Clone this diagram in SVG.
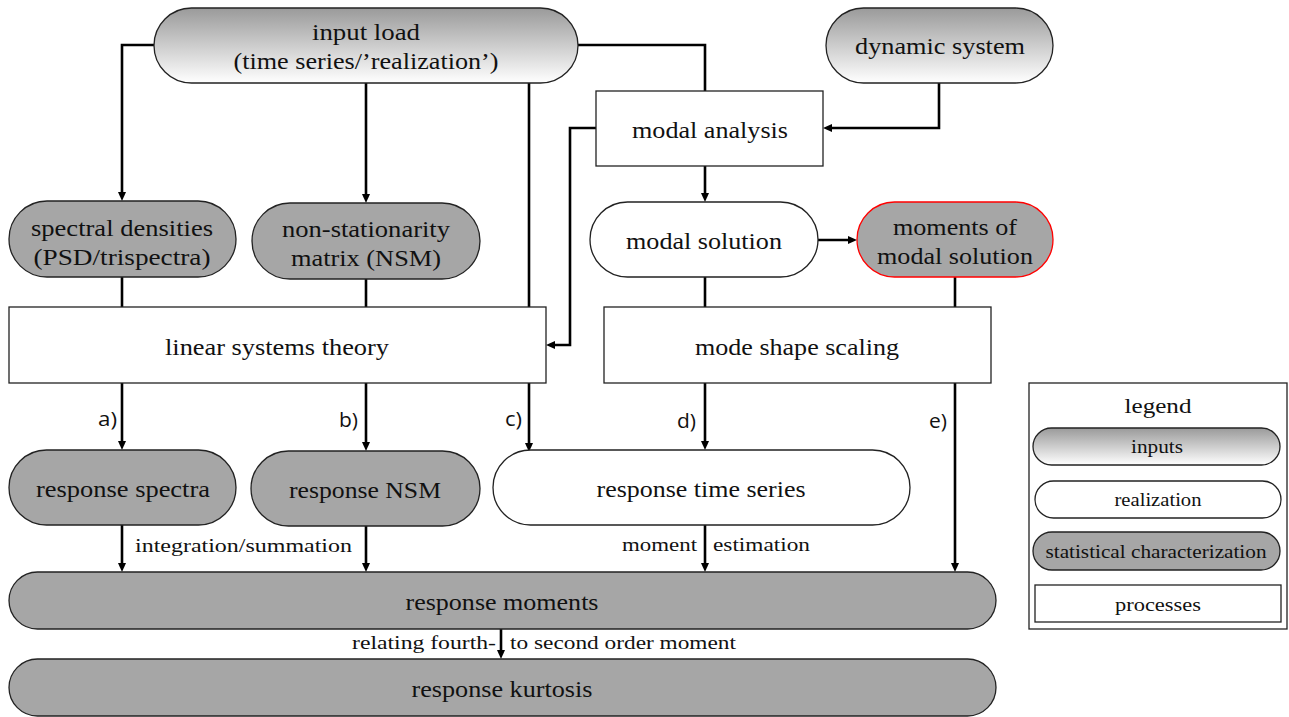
<svg xmlns="http://www.w3.org/2000/svg" width="1289" height="717" viewBox="0 0 1289 717">
<style>
  .t { font-family: "Liberation Serif", "Times New Roman", serif; font-size: 24px; fill: #111; text-anchor: middle; }
  .s { font-family: "Liberation Serif", "Times New Roman", serif; font-size: 19px; fill: #111; }
  .lg { font-family: "Liberation Serif", "Times New Roman", serif; font-size: 18px; fill: #111; text-anchor: middle; }
  .lab { font-family: "Open Sans", "DejaVu Sans", sans-serif; font-size: 20px; fill: #111; }
  .inp { fill: url(#grad); stroke: #222; stroke-width: 1.3; }
  .real { fill: #fff; stroke: #222; stroke-width: 1.3; }
  .stat { fill: #a6a6a6; stroke: #222; stroke-width: 1.3; }
  .proc { fill: #fff; stroke: #222; stroke-width: 1.3; }
  .edge { fill: none; stroke: #000; stroke-width: 2.6; }
</style>
<defs>
  <linearGradient id="grad" x1="0" y1="0" x2="0" y2="1">
    <stop offset="0" stop-color="#9a9a9a"/>
    <stop offset="1" stop-color="#ffffff"/>
  </linearGradient>
  <marker id="ah" viewBox="0 0 9 8" refX="3" refY="4" markerWidth="9" markerHeight="8" markerUnits="userSpaceOnUse" orient="auto">
    <path d="M0,0 L9,4 L0,8 z" fill="#000"/>
  </marker>
</defs>
<rect width="1289" height="717" fill="#fff"/>

<g id="connectors">
  <path class="edge" d="M154,45 H122 V195" marker-end="url(#ah)"/>
  <path class="edge" d="M366,83 V197" marker-end="url(#ah)"/>
  <path class="edge" d="M529,83 V307"/>
  <path class="edge" d="M578,45 H705 V91"/>
  <path class="edge" d="M939,83 V128 H829" marker-end="url(#ah)"/>
  <path class="edge" d="M596,128 H570 V345 H552" marker-end="url(#ah)"/>
  <path class="edge" d="M705,166 V196" marker-end="url(#ah)"/>
  <path class="edge" d="M818,240 H851" marker-end="url(#ah)"/>
  <path class="edge" d="M705,277 V307"/>
  <path class="edge" d="M955,277 V307"/>
  <path class="edge" d="M122,277 V307"/>
  <path class="edge" d="M366,279 V307"/>
  <path class="edge" d="M122,383 V444" marker-end="url(#ah)"/>
  <path class="edge" d="M366,383 V445" marker-end="url(#ah)"/>
  <path class="edge" d="M529,383 V446" marker-end="url(#ah)"/>
  <path class="edge" d="M705,383 V444" marker-end="url(#ah)"/>
  <path class="edge" d="M955,383 V566" marker-end="url(#ah)"/>
  <path class="edge" d="M122,525 V566" marker-end="url(#ah)"/>
  <path class="edge" d="M366,526 V566" marker-end="url(#ah)"/>
  <path class="edge" d="M705,525 V566" marker-end="url(#ah)"/>
  <path class="edge" d="M501,629 V653" marker-end="url(#ah)"/>
  <text class="lab" x="98" y="426" textLength="19" lengthAdjust="spacingAndGlyphs">a)</text>
  <text class="lab" x="339" y="427" textLength="19" lengthAdjust="spacingAndGlyphs">b)</text>
  <text class="lab" x="505" y="426" textLength="17" lengthAdjust="spacingAndGlyphs">c)</text>
  <text class="lab" x="677" y="428" textLength="19" lengthAdjust="spacingAndGlyphs">d)</text>
  <text class="lab" x="929" y="428" textLength="18" lengthAdjust="spacingAndGlyphs">e)</text>
  <text class="s" x="135" y="552" textLength="217" lengthAdjust="spacingAndGlyphs">integration/summation</text>
  <text class="s" x="622" y="551" textLength="75" lengthAdjust="spacingAndGlyphs">moment</text>
  <text class="s" x="713" y="551" textLength="97" lengthAdjust="spacingAndGlyphs">estimation</text>
  <text class="s" x="352" y="649" textLength="144" lengthAdjust="spacingAndGlyphs">relating fourth-</text>
  <text class="s" x="510" y="649" textLength="226" lengthAdjust="spacingAndGlyphs">to second order moment</text>
</g>

<g id="input-load">
  <rect class="inp" x="154" y="8" width="424" height="75" rx="37.5"/>
  <text class="t" x="366" y="40" textLength="108" lengthAdjust="spacingAndGlyphs">input load</text>
  <text class="t" x="366" y="69" textLength="265" lengthAdjust="spacingAndGlyphs">(time series/’realization’)</text>
</g>
<g id="dynamic-system">
  <rect class="inp" x="826" y="8" width="227" height="75" rx="37.5"/>
  <text class="t" x="940" y="54" textLength="170" lengthAdjust="spacingAndGlyphs">dynamic system</text>
</g>
<g id="modal-analysis">
  <rect class="proc" x="596" y="91" width="227" height="75"/>
  <text class="t" x="710" y="138" textLength="156" lengthAdjust="spacingAndGlyphs">modal analysis</text>
</g>
<g id="modal-solution">
  <rect class="real" x="590" y="202" width="228" height="75" rx="37.5"/>
  <text class="t" x="704" y="249" textLength="156" lengthAdjust="spacingAndGlyphs">modal solution</text>
</g>
<g id="moments-modal-solution">
  <rect class="stat" x="857" y="202" width="196" height="75" rx="37.5" style="stroke:#ff0000"/>
  <text class="t" x="955" y="235" textLength="124" lengthAdjust="spacingAndGlyphs">moments of</text>
  <text class="t" x="955" y="264" textLength="156" lengthAdjust="spacingAndGlyphs">modal solution</text>
</g>
<g id="spectral-densities">
  <rect class="stat" x="9" y="201" width="227" height="76" rx="38"/>
  <text class="t" x="122" y="236" textLength="182" lengthAdjust="spacingAndGlyphs">spectral densities</text>
  <text class="t" x="122" y="265" textLength="177" lengthAdjust="spacingAndGlyphs">(PSD/trispectra)</text>
</g>
<g id="nsm">
  <rect class="stat" x="252" y="203" width="228" height="76" rx="38"/>
  <text class="t" x="366" y="237" textLength="168" lengthAdjust="spacingAndGlyphs">non-stationarity</text>
  <text class="t" x="366" y="266" textLength="150" lengthAdjust="spacingAndGlyphs">matrix (NSM)</text>
</g>
<g id="linear-systems-theory">
  <rect class="proc" x="9" y="307" width="537" height="76"/>
  <text class="t" x="277" y="355" textLength="224" lengthAdjust="spacingAndGlyphs">linear systems theory</text>
</g>
<g id="mode-shape-scaling">
  <rect class="proc" x="604" y="307" width="387" height="76"/>
  <text class="t" x="797" y="355" textLength="204" lengthAdjust="spacingAndGlyphs">mode shape scaling</text>
</g>
<g id="response-spectra">
  <rect class="stat" x="9" y="450" width="227" height="75" rx="37.5"/>
  <text class="t" x="123" y="497" textLength="174" lengthAdjust="spacingAndGlyphs">response spectra</text>
</g>
<g id="response-nsm">
  <rect class="stat" x="251" y="451" width="229" height="75" rx="37.5"/>
  <text class="t" x="365" y="498" textLength="152" lengthAdjust="spacingAndGlyphs">response NSM</text>
</g>
<g id="response-time-series">
  <rect class="real" x="493" y="450" width="417" height="75" rx="37.5"/>
  <text class="t" x="701" y="497" textLength="209" lengthAdjust="spacingAndGlyphs">response time series</text>
</g>
<g id="response-moments">
  <rect class="stat" x="9" y="572" width="987" height="57" rx="28.5"/>
  <text class="t" x="502" y="610" textLength="193" lengthAdjust="spacingAndGlyphs">response moments</text>
</g>
<g id="response-kurtosis">
  <rect class="stat" x="9" y="659" width="987" height="57" rx="28.5"/>
  <text class="t" x="502" y="697" textLength="181" lengthAdjust="spacingAndGlyphs">response kurtosis</text>
</g>
<g id="legend">
  <rect x="1029" y="383" width="258" height="246" fill="#fff" stroke="#222" stroke-width="1.3"/>
  <text class="t" x="1158" y="413" style="font-size:22px" textLength="67" lengthAdjust="spacingAndGlyphs">legend</text>
  <rect class="inp" x="1033" y="428" width="247" height="37" rx="18.5"/>
  <text class="lg" x="1157" y="453" textLength="52" lengthAdjust="spacingAndGlyphs">inputs</text>
  <rect class="real" x="1035" y="481" width="246" height="37" rx="18.5"/>
  <text class="lg" x="1158" y="506" textLength="87" lengthAdjust="spacingAndGlyphs">realization</text>
  <rect class="stat" x="1033" y="532" width="247" height="38" rx="19"/>
  <text class="lg" x="1156" y="558" textLength="221" lengthAdjust="spacingAndGlyphs">statistical characterization</text>
  <rect class="proc" x="1035" y="585" width="246" height="37"/>
  <text class="lg" x="1158" y="611" textLength="86" lengthAdjust="spacingAndGlyphs">processes</text>
</g>
</svg>
